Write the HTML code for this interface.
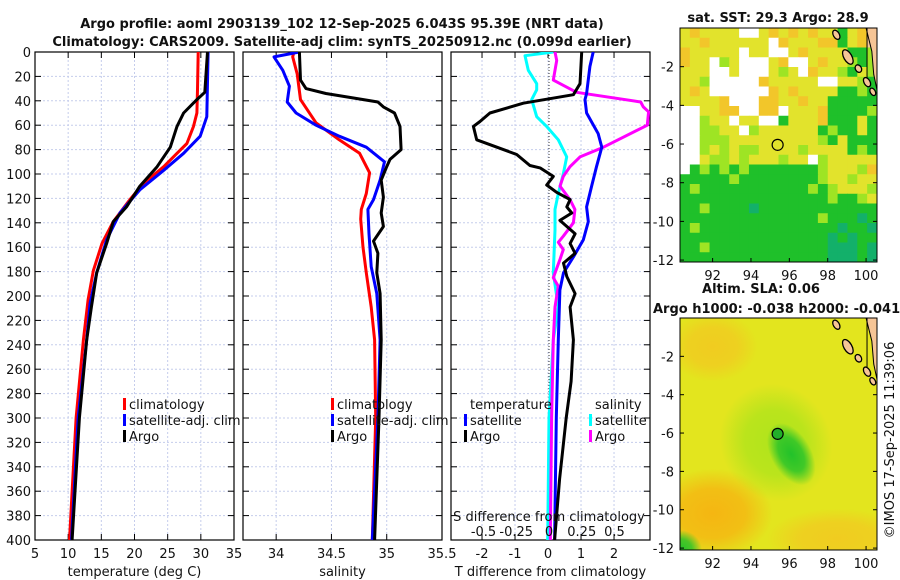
<!DOCTYPE html>
<html><head><meta charset="utf-8">
<style>
html,body{margin:0;padding:0;background:#fff;}
svg{display:block;font-family:"DejaVu Sans","Liberation Sans",sans-serif;}
.t{font-size:13px;fill:#111;}
.b{font-size:13px;font-weight:bold;fill:#111;}
</style></head>
<body>
<svg id="fig" width="900" height="580" viewBox="0 0 900 580" xmlns="http://www.w3.org/2000/svg">
<text class="b" x="342" y="28" text-anchor="middle">Argo profile: aoml 2903139_102 12-Sep-2025 6.043S 95.39E (NRT data)</text>
<text class="b" x="342" y="46" text-anchor="middle">Climatology: CARS2009. Satellite-adj clim: synTS_20250912.nc (0.099d earlier)</text>
<g id="panels"></g>
<g id="maps"></g>
<text class="t" transform="translate(894,440) rotate(-90)" text-anchor="middle">©IMOS 17-Sep-2025 11:39:06</text>
</svg>
<script>
// ---------- data ----------
const depthTicks = [0,20,40,60,80,100,120,140,160,180,200,220,240,260,280,300,320,340,360,380,400];
const tempTicks = [5,10,15,20,25,30,35];
const salTicks = [34,34.5,35,35.5];
const tdiffTicks = [-2,-1,0,1,2];
const sdiffTicks = [-0.5,-0.25,0,0.25,0.5];
const sdiffTickLabels = ["-0.5","-0.25","0","0.25","0.5"];

const tempClimDepth = [0,31,50,61,75,83,94,108,121,139,157,179,203,236,300,400];
const tempClimVal   = [29.6,29.5,29.4,28.9,27.9,26.4,24.4,21.3,19.3,16.8,15.1,13.8,13.0,12.3,11.2,10.2];
const tempSatDepth  = [0,53,69,83,97,113,132,154,181,206,236,300,400];
const tempSatVal    = [31.1,30.9,29.9,27.4,24.4,20.8,17.8,15.8,14.3,13.3,12.8,11.5,10.5];
const tempArgoDepth = [0,33,39,50,61,78,94,110,127,139,157,181,209,236,300,400];
const tempArgoVal   = [31.0,30.6,29.4,27.4,26.4,25.4,23.4,20.8,18.8,16.8,15.8,14.3,13.5,12.8,11.7,10.6];

const salClimDepth = [0,4,18,39,58,72,83,99,116,129,137,160,181,209,236,300,400];
const salClimVal   = [34.16,34.15,34.19,34.22,34.36,34.57,34.755,34.845,34.815,34.77,34.765,34.785,34.815,34.86,34.89,34.9,34.87];
const salSatDepth  = [0,4,15,28,41,50,60,69,78,90,105,121,129,149,176,198,236,300,400];
const salSatVal    = [34.21,33.98,34.06,34.12,34.10,34.18,34.36,34.57,34.815,34.98,34.94,34.88,34.83,34.84,34.86,34.91,34.94,34.92,34.87];
const salArgoDepth = [0,23,30,34,38,41,45,50,61,80,88,94,105,119,132,143,155,165,181,198,236,300,400];
const salArgoVal   = [34.21,34.22,34.27,34.45,34.72,34.92,34.97,35.07,35.12,35.13,35.03,35.0,34.95,34.97,34.95,34.97,34.88,34.92,34.91,34.94,34.95,34.93,34.89];

const tdArgoDepth = [0,26,35,42,50,57,61,72,78,84,93,95,102,109,115,121,127,132,138,149,157,165,173,184,198,209,236,270,300,350,400];
const tdArgoVal   = [1.02,0.97,0.77,-0.75,-1.76,-2.06,-2.26,-2.16,-1.55,-0.95,-0.55,-0.24,0.16,-0.04,0.26,0.67,0.57,0.72,0.36,0.82,0.67,0.82,0.47,0.57,0.82,0.67,0.77,0.7,0.55,0.35,0.2];
const tdSatDepth  = [0,12,34,39,50,67,78,94,110,127,139,154,168,181,195,236,300,400];
const tdSatVal    = [1.37,1.27,1.17,1.12,1.17,1.52,1.63,1.47,1.32,1.17,1.22,1.07,0.77,0.47,0.36,0.31,0.25,0.2];
const sdArgoDepth = [0,7,23,33,41,45,49,60,78,86,94,102,110,121,129,140,151,156,162,170,185,192,209,236,300,400];
const sdArgoVal   = [0.046,0.059,0.033,0.21,0.70,0.72,0.76,0.75,0.415,0.237,0.16,0.109,0.084,0.16,0.198,0.186,0.109,0.071,0.109,0.084,0.033,0.071,0.046,0.033,0.02,0.01];
const sdSatDepth  = [0,3,15,26,31,39,53,61,72,86,100,116,129,146,181,209,236,300,400];
const sdSatVal    = [0.033,-0.183,-0.158,-0.094,-0.094,-0.132,-0.094,-0.018,0.071,0.135,0.109,0.071,0.046,0.046,0.033,0.071,0.033,0.0,-0.01];

const lonTicks = [92,94,96,98,100];
const latTicks = [-2,-4,-6,-8,-10,-12];
const argoLon = 95.39, argoLat = -6.043;
const sstGrid = [
"yoyyyywwyoyoyoyygyoL","yyoyyyyyywoyyyoogyoL","oyyyyywyywwyoyyyyggl","oyywlywwwyowwyoyylgl",
"yyywwywwwylywoyylgyl","yylwwwwwoyyyyywwyylg","yoywwwwwwoyoyyyygglg","yyyyowwwooyyoyyggggg",
"wwyyoowwoowyyyoggggl","wwlyywyywwgyyyogggyg","wwllyywlyyyyyyglggyg","wwlllyyyyyyyyylgyggg",
"wwlylyllyyyylyyyyglg","wwyllylyyylyywlyyyyy","wglglglggggggglyyylo","ggggglgggggggglyylyy",
"glggggggggggglglyyyl","ggggggggggggggglggly","gglggggtgggggggggggg","gggggggggggggglgggtg",
"glggggggggggggggtggt","gggggggggggggggtgtgg","gglggggggggggggtttgt","gggggggggggggggtttgt"];

// ---------- helpers ----------
const NS="http://www.w3.org/2000/svg";
function mk(tag, attrs, parent){const e=document.createElementNS(NS,tag);for(const k in attrs)e.setAttribute(k,attrs[k]);parent.appendChild(e);return e;}
const Y0=52, Y1=540;
const yD = d => Y0 + (d/400)*(Y1-Y0);
const panelsG=document.getElementById('panels');
const mapsG=document.getElementById('maps');

function panel(id, x0, x1, vmin, vmax, ticks, tickLabels, xlabel, showY){
  const g=mk('g',{},panelsG);
  
  
  const sx = v => x0 + (v-vmin)/(vmax-vmin)*(x1-x0);
  const cpp=mk('clipPath',{id:'clip-'+id},g);
  mk('rect',{x:x0,y:Y0,width:x1-x0,height:Y1-Y0},cpp);
  depthTicks.forEach(d=>{
    if(d>0&&d<400){const l=mk('line',{x1:x0,x2:x1,y1:yD(d),y2:yD(d),stroke:'#c5cdec','stroke-width':1,'stroke-dasharray':'2,2'},g);
    
    }
    mk('line',{x1:x0,x2:x0+6,y1:yD(d),y2:yD(d),stroke:'#000'},g);
    mk('line',{x1:x1-6,x2:x1,y1:yD(d),y2:yD(d),stroke:'#000'},g);
    if(showY){const t=mk('text',{x:x0-4,y:yD(d)+5,'text-anchor':'end',class:'t'},g);t.textContent=d;
      
      }
  });
  ticks.forEach((v,i)=>{
    const x=sx(v);
    if(x>x0+1&&x<x1-1){const l=mk('line',{x1:x,x2:x,y1:Y0,y2:Y1,stroke:'#c5cdec','stroke-width':1,'stroke-dasharray':'2,2'},g);
      
      }
    mk('line',{x1:x,x2:x,y1:Y1,y2:Y1-6,stroke:'#000'},g);
    mk('line',{x1:x,x2:x,y1:Y0,y2:Y0+6,stroke:'#000'},g);
    const t=mk('text',{x:x,y:Y1+18,'text-anchor':'middle',class:'t'},g);t.textContent=tickLabels[i];
    
    
  });
  const lab=mk('text',{x:(x0+x1)/2,y:Y1+36,'text-anchor':'middle',class:'t'},g);lab.textContent=xlabel;
  
  
  const fr=mk('rect',{x:x0,y:Y0,width:x1-x0,height:Y1-Y0,fill:'none',stroke:'#000','stroke-width':1.2},g);
  
  
  return {g, sx, clip:'url(#clip-'+id+')'};
}
function line(p, sx, depths, vals, color, name){
  const pts=depths.map((d,i)=>sx(vals[i]).toFixed(1)+','+yD(d).toFixed(1)).join(' ');
  const e=mk('polyline',{points:pts,fill:'none',stroke:color,'stroke-width':3,'stroke-linejoin':'round','clip-path':p.clip},p.g);
  
  
}
function legend(g, x, y, color, label){
  if(color) mk('rect',{x:x-6,y:y-11,width:3,height:12,fill:color},g);
  const t=mk('text',{x:x,y:y,class:'t'},g);t.textContent=label;
  
  
}

// Panel 1: temperature
const p1=panel('temperature-panel',35,234,5,35,tempTicks,tempTicks.map(String),'temperature (deg C)',true);
line(p1,p1.sx,tempClimDepth,tempClimVal,'#f00','temp-climatology-line');
line(p1,p1.sx,tempSatDepth,tempSatVal,'#00f','temp-satellite-line');
line(p1,p1.sx,tempArgoDepth,tempArgoVal,'#000','temp-argo-line');
legend(p1.g,129,409,'#f00','climatology');
legend(p1.g,129,425,'#00f','satellite-adj. clim');
legend(p1.g,129,441,'#000','Argo');

// Panel 2: salinity
const p2=panel('salinity-panel',243,442,33.7,35.5,salTicks,salTicks.map(String),'salinity',false);
line(p2,p2.sx,salClimDepth,salClimVal,'#f00','sal-climatology-line');
line(p2,p2.sx,salSatDepth,salSatVal,'#00f','sal-satellite-line');
line(p2,p2.sx,salArgoDepth,salArgoVal,'#000','sal-argo-line');
legend(p2.g,337,409,'#f00','climatology');
legend(p2.g,337,425,'#00f','satellite-adj. clim');
legend(p2.g,337,441,'#000','Argo');

// Panel 3: differences
const p3=panel('difference-panel',451,650,-2.94,3.09,tdiffTicks,tdiffTicks.map(String),'T difference from climatology',false);
const ssx = v => 549 + v*131;
const z=mk('line',{x1:549,x2:549,y1:Y0,y2:Y1,stroke:'#333','stroke-dasharray':'1,2'},p3.g);


line(p3,ssx,sdSatDepth,sdSatVal,'#0ff','sdiff-satellite-line');
line(p3,ssx,sdArgoDepth,sdArgoVal,'#f0f','sdiff-argo-line');
line(p3,p3.sx,tdSatDepth,tdSatVal,'#00f','tdiff-satellite-line');
line(p3,p3.sx,tdArgoDepth,tdArgoVal,'#000','tdiff-argo-line');
legend(p3.g,470,409,null,'temperature');
legend(p3.g,470,425,'#00f','satellite');
legend(p3.g,470,441,'#000','Argo');
legend(p3.g,595,409,null,'salinity');
legend(p3.g,595,425,'#0ff','satellite');
legend(p3.g,595,441,'#f0f','Argo');
const st=mk('text',{x:549,y:521,'text-anchor':'middle',class:'t'},p3.g);st.textContent='S difference from climatology';


sdiffTicks.forEach((v,i)=>{const t=mk('text',{x:ssx(v),y:536,'text-anchor':'middle',class:'t'},p3.g);t.textContent=sdiffTickLabels[i];
  
  });

// ---------- maps ----------
const MX0=680, MX1=877, LON0=90.3, LON1=100.57;
const mx = lon => MX0 + (lon-LON0)/(LON1-LON0)*(MX1-MX0);
function mapAxes(g, top, bot){
  const my = lat => top + (0-lat)/12.1*(bot-top);
  latTicks.forEach(l=>{
    mk('line',{x1:MX0,x2:MX0+4,y1:my(l),y2:my(l),stroke:'#000'},g);
    mk('line',{x1:MX1-4,x2:MX1,y1:my(l),y2:my(l),stroke:'#000'},g);
    const t=mk('text',{x:MX0-6,y:my(l)+5,'text-anchor':'end',class:'t'},g);t.textContent=l;
    
    
  });
  lonTicks.forEach(l=>{
    mk('line',{x1:mx(l),x2:mx(l),y1:bot,y2:bot-4,stroke:'#000'},g);
    const t=mk('text',{x:mx(l),y:bot+18,'text-anchor':'middle',class:'t'},g);t.textContent=l;
    
    
  });
  const land=mk('path',{d:`M${mx(100.0)},${my(0)} L${MX1},${my(0)} L${MX1},${my(-3.2)} L${mx(100.4)},${my(-2.4)} L${mx(100.3)},${my(-1.2)} Z`,fill:'#f6c596',stroke:'#000'},g);
  
  
  mk('line',{x1:mx(100.05),x2:mx(100.05),y1:my(0),y2:my(-2.8),stroke:'#000'},g);
  [[98.45,-0.35,3,5],[99.05,-1.5,4,8],[99.6,-2.1,3,4],[100.05,-2.8,3,5],[100.35,-3.3,2.5,4]].forEach(s=>{
    const e=mk('ellipse',{cx:mx(s[0]),cy:my(s[1]),rx:s[2],ry:s[3],fill:'#f6c596',stroke:'#000','stroke-width':1.3,transform:`rotate(-30 ${mx(s[0])} ${my(s[1])})`},g);
    
    
  });
  const c=mk('circle',{cx:mx(argoLon),cy:my(argoLat),r:5.5,fill:'none',stroke:'#000','stroke-width':1.2},g);
  
  
  const fr=mk('rect',{x:MX0,y:top,width:MX1-MX0,height:bot-top,fill:'none',stroke:'#000'},g);
  
  
  return c;
}
// SST map
const sstG=mk('g',{},mapsG);


const col={y:'#e2e32c',o:'#f2c62a',l:'#9ee424',g:'#1fc02a',t:'#13b06a',w:'#ffffff',L:'#f6c596'};
const sTop=28,sBot=262;
const cw=(MX1-MX0)/sstGrid[0].length, ch=(sBot-sTop)/sstGrid.length;
sstGrid.forEach((row,r)=>{[...row].forEach((c,k)=>{
  const e=mk('rect',{x:MX0+k*cw,y:sTop+r*ch,width:cw+0.5,height:ch+0.5,fill:col[c]},sstG);
  
  
});});
mapAxes(sstG,sTop,sBot);
const t1=mk('text',{x:778,y:22,'text-anchor':'middle',class:'b'},sstG);t1.textContent='sat. SST: 29.3 Argo: 28.9';



// SLA map
const slaG=mk('g',{},mapsG);


const aTop=318,aBot=550;
const defs=mk('defs',{},slaG);
function rg(id,c){const r=mk('radialGradient',{id:id},defs);mk('stop',{offset:'0%','stop-color':c,'stop-opacity':1},r);mk('stop',{offset:'55%','stop-color':c,'stop-opacity':0.8},r);mk('stop',{offset:'100%','stop-color':c,'stop-opacity':0},r);}
rg('gLime','#b0e41c');rg('gGreen','#22c22a');rg('gOrange','#f5b612');rg('gOr2','#f0cc20');
mk('rect',{x:MX0,y:aTop,width:MX1-MX0,height:aBot-aTop,fill:'#e3e51e'},slaG);
const clipS=mk('clipPath',{id:'slaclip'},slaG);mk('rect',{x:MX0,y:aTop,width:MX1-MX0,height:aBot-aTop},clipS);
const bl=mk('g',{'clip-path':'url(#slaclip)'},slaG);
const myA = lat => aTop + (0-lat)/12.1*(aBot-aTop);
mk('ellipse',{cx:mx(92),cy:myA(-10.2),rx:60,ry:45,fill:'url(#gOrange)'},bl);
mk('ellipse',{cx:mx(92),cy:myA(-1.5),rx:45,ry:35,fill:'url(#gOr2)'},bl);
mk('ellipse',{cx:mx(98.5),cy:myA(-11.5),rx:70,ry:30,fill:'url(#gOr2)'},bl);
mk('ellipse',{cx:mx(95.3),cy:myA(-6.5),rx:55,ry:60,fill:'url(#gLime)',transform:`rotate(-30 ${mx(95.3)} ${myA(-6.5)})`},bl);
mk('ellipse',{cx:mx(96.1),cy:myA(-7.1),rx:20,ry:34,fill:'url(#gGreen)',transform:`rotate(-30 ${mx(96.1)} ${myA(-7.1)})`},bl);
mk('ellipse',{cx:MX0,cy:aBot,rx:22,ry:20,fill:'url(#gGreen)'},bl);
const c2=mapAxes(slaG,aTop,aBot);
c2.setAttribute('fill','#22b02a');
const t2=mk('text',{x:761,y:293,'text-anchor':'middle',class:'b'},slaG);t2.textContent='Altim. SLA: 0.06';


const t3=mk('text',{x:653,y:313,class:'b'},slaG);t3.textContent='Argo h1000: -0.038 h2000: -0.041';


</script>
</body></html>
